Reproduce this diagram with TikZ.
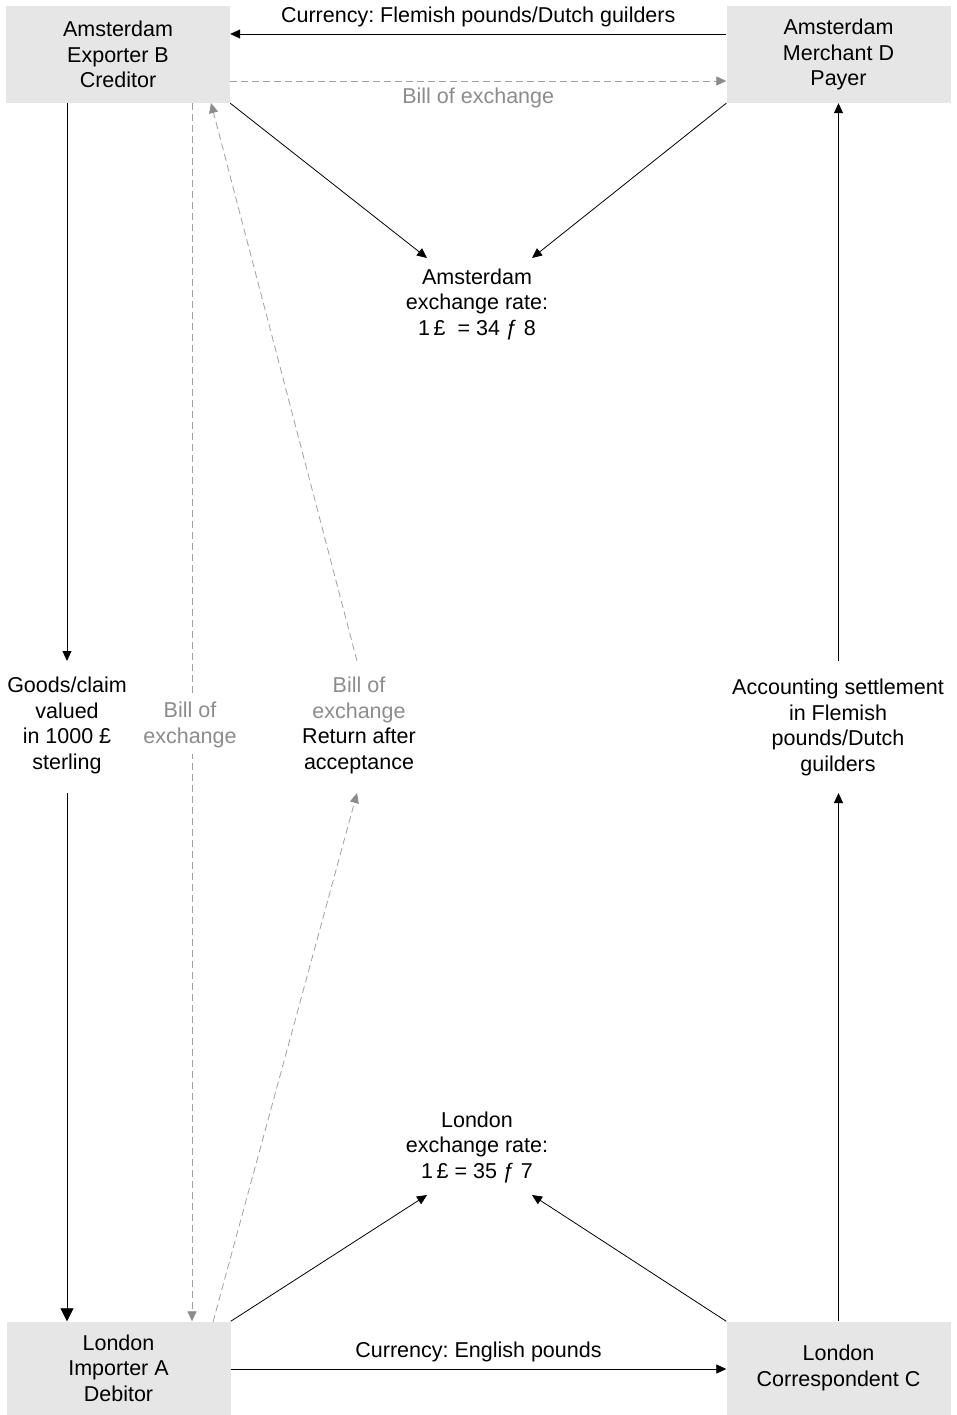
\documentclass[tikz,border=0pt]{standalone}
\usepackage{fontspec}
\setmainfont{Liberation Sans}
\usetikzlibrary{arrows.meta}
\definecolor{boxfill}{RGB}{230,230,230}
\definecolor{gtext}{RGB}{140,140,140}
\definecolor{gline}{RGB}{160,160,160}
\tikzset{
  box/.style={fill=boxfill, draw=none, minimum width=224pt, minimum height=97pt, align=center, inner sep=0pt, font=\fontsize{21.5}{25.5}\selectfont},
  lbl/.style={align=center, inner sep=0pt, font=\fontsize{21.5}{25.5}\selectfont},
  glbl/.style={lbl, text=gtext},
  arr/.style={draw=black, line width=0.8pt, -{Triangle[length=10pt,width=9pt]}},
  bigarr/.style={draw=black, line width=0.8pt, -{Triangle[length=13pt,width=13pt]}},
  garr/.style={draw=gline, line width=0.8pt, dash pattern=on 7pt off 4pt, -{Triangle[length=10pt,width=9pt,fill=gtext,color=gtext]}},
}
\begin{document}
\frenchspacing
\begin{tikzpicture}[x=1pt,y=-1pt]
\useasboundingbox (0,0) rectangle (956,1415);
% boxes
\node[box] (B) at (118,54.5) {Amsterdam\\Exporter B\\Creditor};
\node[box] (D) at (838.5,54.5) {Amsterdam\\Merchant D\\Payer};
\node[box, minimum height=93pt] (A) at (118.5,1368) {London\\Importer A\\Debitor};
\node[box, minimum height=93pt] (C) at (838.5,1368) {London\\Correspondent C};
% text nodes
\node[lbl] (AR) at (477,304) {Amsterdam\\exchange rate:\\1\,£\ \ = 34 ƒ 8};
\node[lbl] (LR) at (477,1147) {London\\exchange rate:\\1\,£ = 35 ƒ 7};
\node[lbl] (G) at (67,725.5) {Goods/claim\\valued\\in 1000 £\\sterling};
\node[lbl] (S) at (838,727.5) {Accounting settlement\\in Flemish\\pounds/Dutch\\guilders};
\node[lbl] (R) at (359,725.5) {\textcolor{gtext}{Bill of}\\\textcolor{gtext}{exchange}\\Return after\\acceptance};
% anchor coordinates
\coordinate (ar1) at (427,258);
\coordinate (ar2) at (532,258);
\coordinate (lr1) at (427,1195);
\coordinate (lr2) at (532,1195);
\coordinate (g1) at (67,661);
\coordinate (g2) at (67,793);
\coordinate (s1) at (838.5,661);
\coordinate (s2) at (838.5,793);
\coordinate (r1) at (357,661);
\coordinate (r2) at (357,793);
\coordinate (bx) at (192,0);
\coordinate (bt) at (211,103);
\coordinate (ab) at (213,1322);
% top currency
\draw[arr] (D.west |- 0,34) -- node[lbl, above=7pt] {Currency: Flemish pounds/Dutch guilders} (B.east |- 0,34);
\draw[garr] (B.east |- 0,81) -- node[glbl, below=7pt] {Bill of exchange} (D.west |- 0,81);
% to Amsterdam rate
\draw[arr] (B.south east) -- (ar1);
\draw[arr] (D.south west) -- (ar2);
% to London rate
\draw[arr] (A.north east) -- (lr1);
\draw[arr] (C.north west) -- (lr2);
% bottom currency
\draw[arr] (A.east |- 0,1369) -- node[lbl, above=7pt] {Currency: English pounds} (C.west |- 0,1369);
% left column
\draw[arr] (B.south -| g1) -- (g1);
\draw[bigarr] (g2) -- (A.north -| g2);
% right column
\draw[arr] (C.north -| s2) -- (s2);
\draw[arr] (s1) -- (D.south -| s1);
% vertical bill of exchange
\draw[garr] (B.south -| bx) -- (A.north -| bx);
\node[glbl, fill=white, inner ysep=6pt] (V) at (190,725) {Bill of\\exchange};
% diagonal bill
\draw[garr] (ab) -- (r2);
\draw[garr] (r1) -- (bt);
\end{tikzpicture}
\end{document}
